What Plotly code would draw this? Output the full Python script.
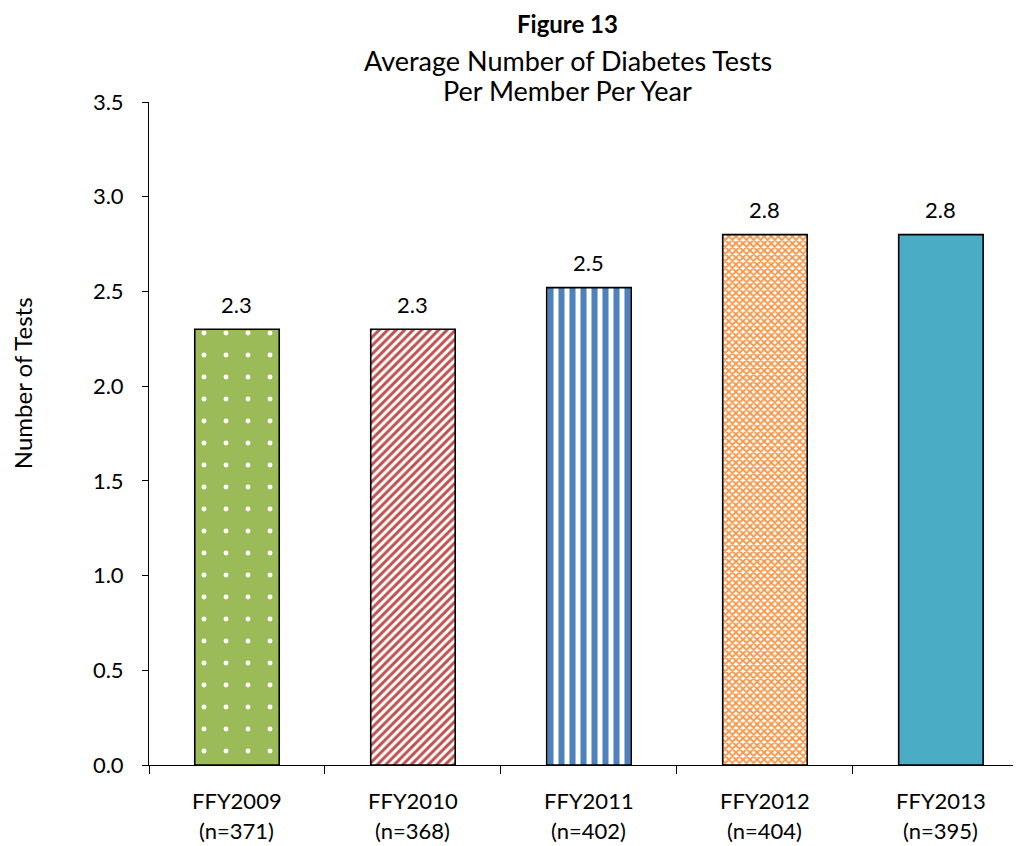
import plotly.graph_objects as go

# Data
years = ['FFY2009', 'FFY2010', 'FFY2011', 'FFY2012', 'FFY2013']
counts = [371, 368, 402, 404, 395]
avg_tests = [2.3, 2.3, 2.52, 2.8, 2.8]

# bar styling: (background, foreground, pattern shape, size, solidity)
styles = [
    ('#9BBB59', 'white', '.', 22, 0.04),
    ('white', '#C0504D', '/', 6, 0.5),
    ('white', '#4F81BD', '|', 11, 0.55),
    ('white', '#F79646', 'x', 5, 0.6),
    ('#4BACC6', '#4BACC6', '', 8, 0.3),
]

FONT = 'Lato'
FS = 22

fig = go.Figure()
for i in range(len(years)):
    bg, fg, shape, size, sol = styles[i]
    fig.add_trace(go.Bar(
        x=[years[i]],
        y=[avg_tests[i]],
        width=0.48,
        marker=dict(
            color=bg,
            line=dict(color='black', width=1.6),
            pattern=dict(shape=shape, bgcolor=bg, fgcolor=fg, fgopacity=1,
                         size=size, solidity=sol, fillmode='overlay'),
        ),
        showlegend=False,
        hoverinfo='skip',
    ))
    # value label above the bar
    fig.add_annotation(x=years[i], y=avg_tests[i], text=f"{avg_tests[i]:.1f}",
                       showarrow=False, yanchor='middle', yshift=25,
                       font=dict(size=FS, family=FONT, color='black'))
    # two-line category label under the axis
    fig.add_annotation(x=years[i], y=-0.0528, yref='paper', text=years[i],
                       showarrow=False, yanchor='middle',
                       font=dict(size=FS, family=FONT, color='black'))
    fig.add_annotation(x=years[i], y=-0.0995, yref='paper', text=f"(n={counts[i]})",
                       showarrow=False, yanchor='middle',
                       font=dict(size=FS, family=FONT, color='black'))

# page body has an 8px margin, so the figure is sized/offset to compensate
fig.update_layout(
    width=1013, height=838,
    margin=dict(l=141, r=0, t=94, b=81, autoexpand=False),
    plot_bgcolor='white',
    paper_bgcolor='white',
    font=dict(family=FONT, size=FS, color='black'),
)

# title block
fig.add_annotation(text='<b>Figure 13</b>', x=0.48, y=1.1177, xref='paper', yref='paper',
                   xanchor='center', yanchor='middle', showarrow=False, borderpad=0,
                   font=dict(size=24, family=FONT))
fig.add_annotation(text='Average Number of Diabetes Tests', x=0.48, y=1.0633,
                   xref='paper', yref='paper', xanchor='center', yanchor='middle',
                   showarrow=False, font=dict(size=27, family=FONT))
fig.add_annotation(text='Per Member Per Year', x=0.48, y=1.0166,
                   xref='paper', yref='paper', xanchor='center', yanchor='middle',
                   showarrow=False, font=dict(size=27, family=FONT))

# y-axis title
fig.add_annotation(text='Number of Tests', x=-0.1456, y=0.576, xref='paper', yref='paper',
                   xanchor='center', yanchor='middle', textangle=-90, showarrow=False,
                   font=dict(size=24, family=FONT))

fig.update_xaxes(
    range=[-0.5, 4.455],
    showline=True, linecolor='black', linewidth=1,
    ticks='outside', tickson='boundaries', ticklen=8, tickcolor='black',
    showticklabels=False, showgrid=False, automargin=False,
)
fig.update_yaxes(
    range=[0, 3.5], dtick=0.5, tickformat='.1f',
    showline=True, linecolor='black', linewidth=1,
    ticks='outside', ticklen=6, tickcolor='black',
    tickfont=dict(size=FS), ticklabelstandoff=14,
    showgrid=False, zeroline=False, automargin=False,
)

fig.write_html("out.html")
